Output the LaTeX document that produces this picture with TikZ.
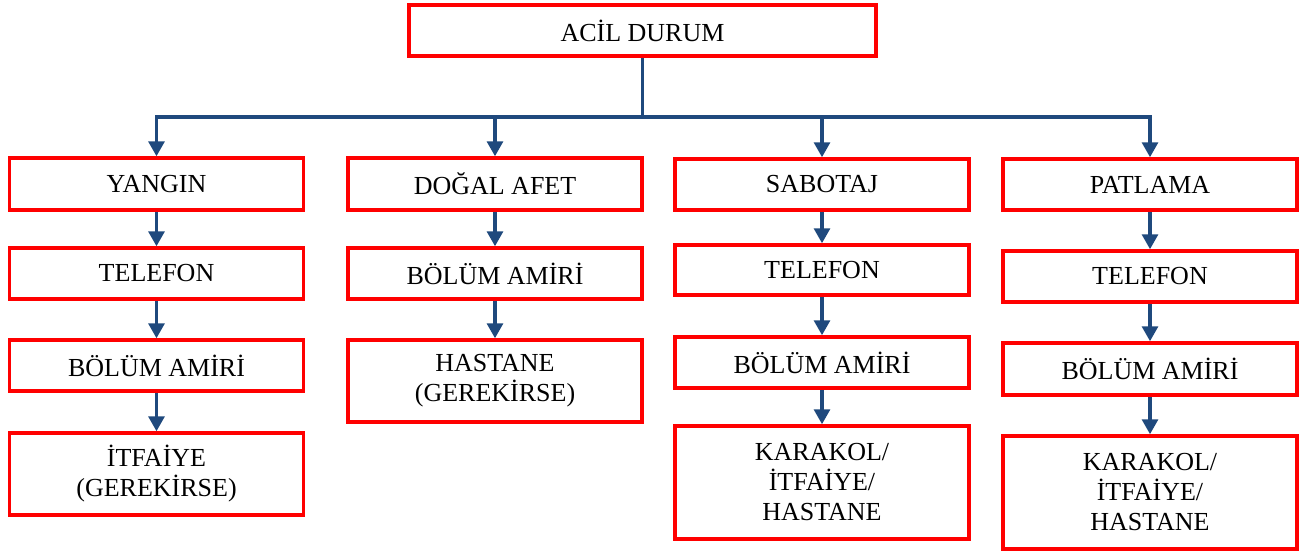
\documentclass[tikz,border=0pt]{standalone}
\usepackage{fontspec}
\setmainfont{Liberation Serif}
\usetikzlibrary{arrows.meta}
\definecolor{arrowblue}{RGB}{31,73,125}
\definecolor{boxred}{RGB}{255,0,0}
\tikzset{
  box/.style={draw=boxred, line width=3.5pt, inner sep=0pt, align=center,
    font=\fontsize{26}{30}\selectfont, minimum width=294pt, fill=white},
  arr/.style={draw=arrowblue, line width=3.2pt,
    -{Triangle[length=15pt,width=16pt]}},
  lnk/.style={draw=arrowblue, line width=3.2pt}
}
\begin{document}
\begin{tikzpicture}[x=1pt,y=-1pt]
\useasboundingbox (0,0) rectangle (1311,554);
% top
\node[box, minimum width=467pt, minimum height=51pt] (top) at (642.5,30.5) {ACİL DURUM};
% column 1
\node[box, minimum height=52pt] (a1) at (156.5,184) {YANGIN};
\node[box, minimum height=51pt] (a2) at (156.5,273.5) {TELEFON};
\node[box, minimum height=51pt] (a3) at (156.5,365.5) {BÖLÜM AMİRİ};
\node[box, minimum height=82pt] (a4) at (156.5,474) {İTFAİYE\\(GEREKİRSE)};
% column 2
\node[box, minimum height=52pt] (b1) at (495,184) {DOĞAL AFET};
\node[box, minimum height=51pt] (b2) at (495,273.5) {BÖLÜM AMİRİ};
\node[box, minimum height=82pt] (b3) at (495,381) {HASTANE\\(GEREKİRSE)};
% column 3
\node[box, minimum height=51pt] (c1) at (822,184.5) {SABOTAJ};
\node[box, minimum height=50pt] (c2) at (822,270) {TELEFON};
\node[box, minimum height=51pt] (c3) at (822,362.5) {BÖLÜM AMİRİ};
\node[box, minimum height=113pt] (c4) at (822,482.5) {KARAKOL/\\İTFAİYE/\\HASTANE};
% column 4
\node[box, minimum height=51pt] (d1) at (1150,184.5) {PATLAMA};
\node[box, minimum height=51pt] (d2) at (1150,276.5) {TELEFON};
\node[box, minimum height=52pt] (d3) at (1150,369) {BÖLÜM AMİRİ};
\node[box, minimum height=113pt] (d4) at (1150,492.5) {KARAKOL/\\İTFAİYE/\\HASTANE};
% bar
\coordinate (bar) at (642.5,117);
\draw[lnk] (top.south) -- (bar);
\draw[arr] (bar) -| (a1.north);
\draw[arr] (bar) -| (b1.north);
\draw[arr] (bar) -| (c1.north);
\draw[arr] (bar) -| (d1.north);
% chains
\draw[arr] (a1) -- (a2);
\draw[arr] (a2) -- (a3);
\draw[arr] (a3) -- (a4);
\draw[arr] (b1) -- (b2);
\draw[arr] (b2) -- (b3);
\draw[arr] (c1) -- (c2);
\draw[arr] (c2) -- (c3);
\draw[arr] (c3) -- (c4);
\draw[arr] (d1) -- (d2);
\draw[arr] (d2) -- (d3);
\draw[arr] (d3) -- (d4);
\end{tikzpicture}
\end{document}
